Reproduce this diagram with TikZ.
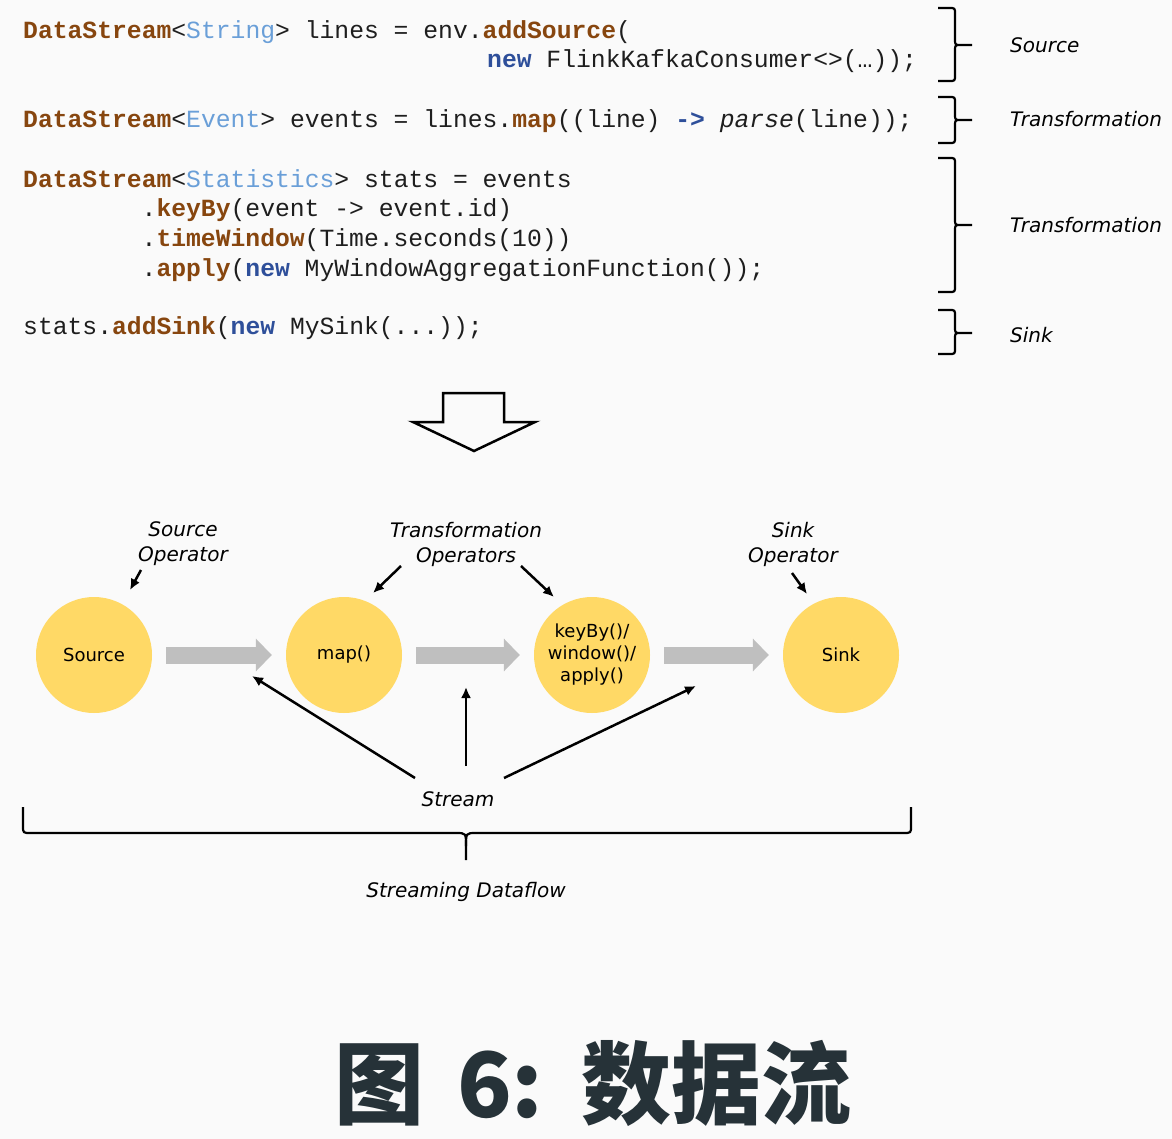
\documentclass[tikz,border=0pt]{standalone}
\usepackage{fontspec}
\setmainfont{DejaVu Sans}
\newfontfamily\codefont{Liberation Mono}
\newfontfamily\cjkfont{Noto Sans CJK SC}
\usetikzlibrary{arrows.meta}
\frenchspacing

\definecolor{bgcol}{HTML}{FAFAFA}
\definecolor{kwbrown}{HTML}{87460F}
\definecolor{tyblue}{HTML}{6A9FD8}
\definecolor{nwblue}{HTML}{2E4F9A}
\definecolor{codegray}{HTML}{1E1E1E}
\definecolor{opyellow}{HTML}{FFD966}
\definecolor{flowgray}{HTML}{BFBFBF}
\definecolor{titlecol}{HTML}{263238}

\newcommand{\cmeth}[1]{\textcolor{kwbrown}{\bfseries #1}}
\newcommand{\ctype}[1]{\textcolor{tyblue}{#1}}
\newcommand{\cnew}[1]{\textcolor{nwblue}{\bfseries #1}}

\tikzset{
  code/.style={font=\codefont\fontsize{24.7}{30}\selectfont, text=codegray, anchor=base west, inner sep=0pt},
  lab/.style={font=\itshape\fontsize{20}{25}\selectfont, inner sep=0pt},
  op/.style={circle, fill=opyellow, minimum size=116pt, inner sep=0pt, align=center, font=\fontsize{18}{22}\selectfont},
  flow/.style={draw=flowgray, line width=17pt, -{Triangle[length=16pt,width=32pt]}, shorten <=14pt, shorten >=14pt},
  ptr/.style={line width=2.5pt, -{Latex[length=11pt,width=10pt]}},
  brc/.style={line width=2.2pt, line join=round},
}

\begin{document}
\begin{tikzpicture}[x=1pt, y=-1pt]
  \fill[bgcol] (0,0) rectangle (1172,1139);
  \useasboundingbox (0,0) rectangle (1172,1139);

  % program code
  \node[code] (l1) at (23,39)  {\cmeth{DataStream}<\ctype{String}> lines = env.\cmeth{addSource}(};
  \node[code] (l2) at (487,68) {\cnew{new} FlinkKafkaConsumer<>(…));};
  \node[code] (l3) at (23,128) {\cmeth{DataStream}<\ctype{Event}> events = lines.\cmeth{map}((line) \cnew{->} \textit{parse}(line));};
  \node[code] (l4) at (23,188) {\cmeth{DataStream}<\ctype{Statistics}> stats = events};
  \node[code] (l5) at (141.5,217) {.\cmeth{keyBy}(event -> event.id)};
  \node[code] (l6) at (141.5,247) {.\cmeth{timeWindow}(Time.seconds(10))};
  \node[code] (l7) at (141.5,277) {.\cmeth{apply}(\cnew{new} MyWindowAggregationFunction());};
  \node[code] (l8) at (23,335) {stats.\cmeth{addSink}(\cnew{new} MySink(...));};

  % braces and their names
  \foreach \t/\m/\b in {8/45/81, 97/120/143, 158/225/292, 310/333/354}
    \draw[brc] (938,\t) -- (949,\t) .. controls (955,\t) .. (955,\t+6) -- (955,\m-6)
      .. controls (955,\m) .. (961,\m) -- (972,\m)
      (961,\m) .. controls (955,\m) .. (955,\m+6) -- (955,\b-6)
      .. controls (955,\b) .. (949,\b) -- (938,\b);
  \node[lab, anchor=base west] (nsrc) at (1010,53)  {Source};
  \node[lab, anchor=base west] (ntr1) at (1010,127) {Transformation};
  \node[lab, anchor=base west] (ntr2) at (1010,233) {Transformation};
  \node[lab, anchor=base west] (nsnk) at (1010,342) {Sink};

  % hollow arrow
  \draw[line width=2.5pt] (443,393) -- (504,393) -- (504,422) -- (535,422) -- (474,451)
    -- (413,422) -- (443,422) -- cycle;

  % operators
  \node[op] (src) at (94,655)  {Source};
  \node[op] (map) at (344,655) {map()};
  \node[op] (win) at (592,655) {keyBy()/\\window()/\\apply()};
  \node[op] (snk) at (841,655) {Sink};

  \draw[flow] (src) -- (map);
  \draw[flow] (map) -- (win);
  \draw[flow] (win) -- (snk);

  \node[lab, align=center] (srcop) at (183,544) {Source\\Operator};
  \node[lab, align=center] (trop)  at (466,544) {Transformation\\Operators};
  \node[lab, align=center] (snkop) at (793,544) {Sink\\Operator};

  \coordinate (p1a) at (141,570); \coordinate (p1b) at (130,590);
  \coordinate (p2a) at (401,566); \coordinate (p2b) at (373,593);
  \coordinate (p3a) at (521,566); \coordinate (p3b) at (554,597);
  \coordinate (p4a) at (792,573); \coordinate (p4b) at (807,594);
  \draw[ptr] (p1a) -- (p1b);
  \draw[ptr] (p2a) -- (p2b);
  \draw[ptr] (p3a) -- (p3b);
  \draw[ptr] (p4a) -- (p4b);

  % stream
  \node[lab, anchor=base] (strm) at (458,806) {Stream};
  \coordinate (s1a) at (415,778); \coordinate (s1b) at (252,676);
  \coordinate (s2a) at (466,766); \coordinate (s2b) at (466,687);
  \coordinate (s3a) at (504,778); \coordinate (s3b) at (696,686);
  \draw[ptr] (s1a) -- (s1b);
  \draw[ptr] (s2a) -- (s2b);
  \draw[ptr] (s3a) -- (s3b);

  % dataflow brace
  \draw[brc] (23,807) -- (23,826) .. controls (23,833) .. (31,833) -- (456,833)
    .. controls (466,833) .. (466,846) -- (466,860);
  \draw[brc] (911,807) -- (911,826) .. controls (911,833) .. (903,833) -- (476,833)
    .. controls (466,833) .. (466,846);
  \node[lab, anchor=base] (dflow) at (466,897) {Streaming Dataflow};

  % caption
  \node[font=\cjkfont\bfseries\fontsize{90}{100}\selectfont, text=titlecol, anchor=base west, inner sep=0pt]
    (ttl) at (334,1117) {图\hspace{33pt}6:\hspace{38pt}数据流};
\end{tikzpicture}
\end{document}
